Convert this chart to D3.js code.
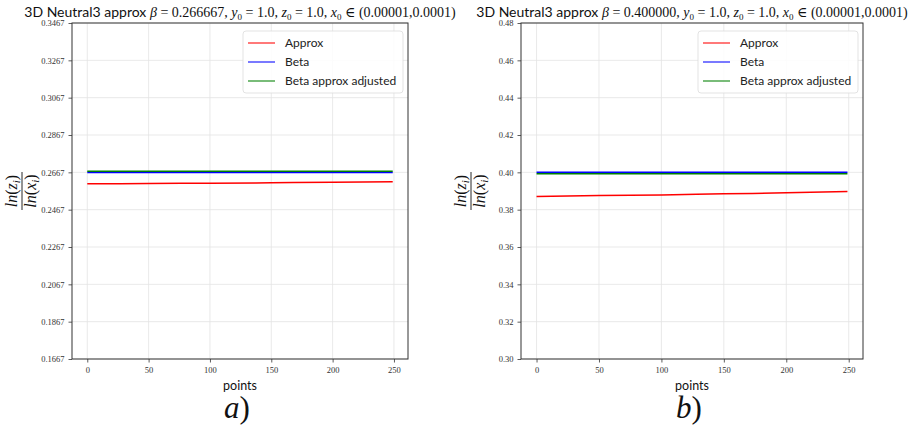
<!DOCTYPE html>
<html>
<head>
<meta charset="utf-8">
<script src="https://cdn.jsdelivr.net/npm/d3@7"></script>
<style>
  body { margin: 0; background: #fff; }
  svg { display: block; }
</style>
</head>
<body>
<svg id="chart" width="919" height="425"></svg>
<script>
// sample positions
const pointIdx = [0, 50, 100, 150, 200, 249];

// panel a) beta = 0.266667
const approxA = [0.2606, 0.2607, 0.2609, 0.2611, 0.2614, 0.2617];
const betaA = [0.266667, 0.266667, 0.266667, 0.266667, 0.266667, 0.266667];
const adjustedA = [0.2673, 0.2673, 0.2673, 0.2673, 0.2673, 0.2673];
const yTicksA = ["0.1667", "0.1867", "0.2067", "0.2267", "0.2467", "0.2667", "0.2867", "0.3067", "0.3267", "0.3467"];

// panel b) beta = 0.4
const approxB = [0.3870, 0.3876, 0.3879, 0.3885, 0.3890, 0.3897];
const betaB = [0.4, 0.4, 0.4, 0.4, 0.4, 0.4];
const adjustedB = [0.3993, 0.3993, 0.3993, 0.3993, 0.3993, 0.3993];
const yTicksB = ["0.30", "0.32", "0.34", "0.36", "0.38", "0.40", "0.42", "0.44", "0.46", "0.48"];

const xTicks = [0, 50, 100, 150, 200, 250];
const seriesNames = ["Approx", "Beta", "Beta approx adjusted"];
const seriesColors = ["#ff0000", "#0000ff", "#008000"];

const SANS = "Lato, 'Open Sans', sans-serif";
const SERIF = "'Liberation Serif', 'DejaVu Serif', serif";

const svg = d3.select("#chart");

function drawPanel(cfg) {
  const { left, right, top, bottom } = cfg.box;
  const yVals = cfg.yTicks.map(Number);

  const x = d3.scaleLinear().domain([-12.45, 261.45]).range([left, right]);
  const y = d3.scaleLinear().domain(d3.extent(yVals)).range([bottom, top]);

  const g = svg.append("g");

  // grid
  g.append("g")
    .selectAll("line")
    .data(xTicks)
    .join("line")
    .attr("x1", d => x(d)).attr("x2", d => x(d))
    .attr("y1", top).attr("y2", bottom)
    .attr("stroke", "#e3e3e3").attr("stroke-width", 0.8);
  g.append("g")
    .selectAll("line")
    .data(yVals)
    .join("line")
    .attr("x1", left).attr("x2", right)
    .attr("y1", d => y(d)).attr("y2", d => y(d))
    .attr("stroke", "#e3e3e3").attr("stroke-width", 0.8);

  // axes
  const xAxis = g.append("g")
    .attr("transform", `translate(0,${bottom})`)
    .call(d3.axisBottom(x).tickValues(xTicks).tickSize(3.5).tickPadding(4));
  const yAxis = g.append("g")
    .attr("transform", `translate(${left},0)`)
    .call(d3.axisLeft(y).tickValues(yVals).tickFormat((d, i) => cfg.yTicks[i]).tickSize(3.5).tickPadding(4));
  [xAxis, yAxis].forEach(a => {
    a.select(".domain").remove();
    a.selectAll("line").attr("stroke", "#333").attr("stroke-width", 0.8);
    a.selectAll("text")
      .attr("font-family", SERIF)
      .attr("font-size", 8.5)
      .attr("fill", "#333");
  });

  // series lines
  const line = d3.line()
    .x((d, i) => x(pointIdx[i]))
    .y(d => y(d))
    .curve(d3.curveMonotoneX);
  cfg.series.forEach((vals, k) => {
    g.append("path")
      .datum(vals)
      .attr("fill", "none")
      .attr("stroke", seriesColors[k])
      .attr("stroke-width", 1.5)
      .attr("d", line);
  });

  // frame
  g.append("rect")
    .attr("x", left).attr("y", top)
    .attr("width", right - left).attr("height", bottom - top)
    .attr("fill", "none").attr("stroke", "#333").attr("stroke-width", 1);

  // legend
  const lg = g.append("g").attr("transform", `translate(${right - 165},${top + 8})`);
  lg.append("rect")
    .attr("width", 160).attr("height", 62)
    .attr("rx", 3)
    .attr("fill", "#fff").attr("fill-opacity", 0.85)
    .attr("stroke", "#dcdcdc").attr("stroke-width", 0.8);
  seriesNames.forEach((name, k) => {
    const row = lg.append("g").attr("transform", `translate(0,${12 + k * 19})`);
    row.append("line")
      .attr("x1", 5).attr("x2", 32)
      .attr("stroke", seriesColors[k]).attr("stroke-opacity", 0.7)
      .attr("stroke-width", 1.5);
    row.append("text")
      .attr("x", 42).attr("dy", "0.35em")
      .attr("font-family", SANS).attr("font-size", 12)
      .attr("fill", "#222")
      .text(name);
  });

  // title
  const cx = (left + right) / 2;
  const title = g.append("text")
    .attr("x", cx).attr("y", top - 6)
    .attr("text-anchor", "middle")
    .attr("font-size", 13)
    .attr("fill", "#111");
  const parts = [
    ["3D Neutral3 approx ", SANS, "normal"],
    ["β", SERIF, "italic"], [" = " + cfg.beta + ", ", SERIF, "normal"],
    ["y", SERIF, "italic"], ["0", SERIF, "normal", true], [" = 1.0,  ", SERIF, "normal"],
    ["z", SERIF, "italic"], ["0", SERIF, "normal", true], [" = 1.0,  ", SERIF, "normal"],
    ["x", SERIF, "italic"], ["0", SERIF, "normal", true], [" ∈ (0.00001,0.0001)", SERIF, "normal"]
  ];
  let wasSub = false;
  parts.forEach(([txt, fam, style, sub]) => {
    const t = title.append("tspan")
      .attr("font-family", fam)
      .attr("font-style", style)
      .attr("font-size", sub ? 9 : 14)
      .text(txt);
    if (sub) t.attr("dy", 3);
    else if (wasSub) t.attr("dy", -3);
    wasSub = !!sub;
  });
  const w = title.node().getComputedTextLength();
  if (w > cfg.titleWidth) title.attr("textLength", cfg.titleWidth).attr("lengthAdjust", "spacingAndGlyphs");

  // x label and panel letter
  g.append("text")
    .attr("x", cx).attr("y", bottom + 31)
    .attr("text-anchor", "middle")
    .attr("font-family", SANS).attr("font-size", 12.5)
    .attr("fill", "#111")
    .text("points");
  g.append("text")
    .attr("x", cx - 3).attr("y", bottom + 59)
    .attr("text-anchor", "middle")
    .attr("font-family", SERIF).attr("font-size", 31)
    .attr("fill", "#111")
    .call(t => {
      t.append("tspan").attr("font-style", "italic").text(cfg.letter);
      t.append("tspan").text(")");
    });

  // y label: ln(z_i) / ln(x_i) rotated
  const yl = g.append("g")
    .attr("transform", `translate(${left - 50},${(top + bottom) / 2}) rotate(-90)`)
    .attr("font-family", SERIF).attr("font-size", 16).attr("fill", "#111");
  function lnText(sel, v, yy) {
    const t = sel.append("text").attr("y", yy).attr("text-anchor", "middle");
    t.append("tspan").attr("font-style", "italic").text("ln");
    t.append("tspan").text("(");
    t.append("tspan").attr("font-style", "italic").text(v);
    t.append("tspan").attr("font-style", "italic").attr("font-size", 11).attr("dy", 3).text("i");
    t.append("tspan").attr("dy", -3).text(")");
  }
  lnText(yl, "z", -5);
  yl.append("line").attr("x1", -19).attr("x2", 19).attr("y1", 0).attr("y2", 0)
    .attr("stroke", "#111").attr("stroke-width", 0.9);
  lnText(yl, "x", 14);
}

drawPanel({
  box: { left: 72, right: 408, top: 23, bottom: 359 },
  yTicks: yTicksA,
  series: [approxA, betaA, adjustedA],
  beta: "0.266667",
  letter: "a",
  titleWidth: 433
});

drawPanel({
  box: { left: 521, right: 863, top: 23, bottom: 359 },
  yTicks: yTicksB,
  series: [approxB, betaB, adjustedB],
  beta: "0.400000",
  letter: "b",
  titleWidth: 446
});
</script>
</body>
</html>
